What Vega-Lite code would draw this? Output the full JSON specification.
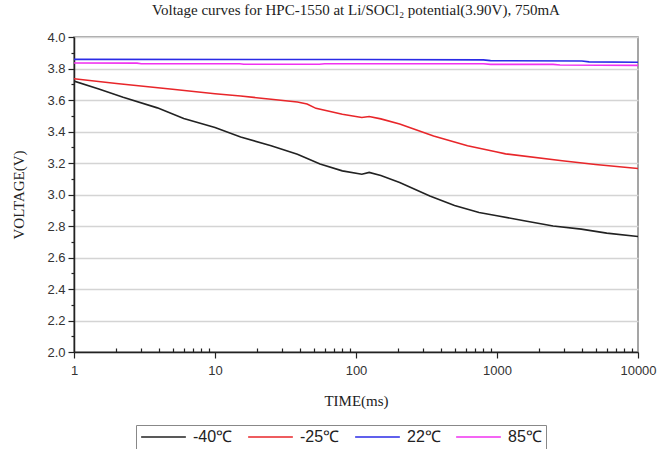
{
  "$schema": "https://vega.github.io/schema/vega-lite/v6.json",
  "width": 564,
  "height": 315,
  "autosize": {"type": "none"},
  "padding": {"left": 74, "top": 37, "right": 28, "bottom": 97},
  "background": "white",
  "title": {
    "text": "Voltage curves for HPC-1550 at Li/SOCl₂ potential(3.90V), 750mA",
    "font": "Liberation Serif",
    "fontSize": 15,
    "fontWeight": "normal",
    "color": "#222",
    "offset": 13
  },
  "config": {
    "view": {"stroke": "#888", "strokeWidth": 1.5},
    "axis": {"labelFont": "Liberation Sans", "labelFontSize": 13, "labelColor": "#333", "titleFont": "Liberation Serif", "titleFontSize": 15, "titleFontWeight": "normal", "titleColor": "#222", "domainColor": "#222", "domainWidth": 1.5, "tickColor": "#222", "tickWidth": 1.2}
  },
  "data": {
    "values": [
      {"t": 1, "v": 3.72, "s": "-40℃"},
      {"t": 1.5, "v": 3.67, "s": "-40℃"},
      {"t": 2.23, "v": 3.617, "s": "-40℃"},
      {"t": 3.9, "v": 3.55, "s": "-40℃"},
      {"t": 6, "v": 3.482, "s": "-40℃"},
      {"t": 10, "v": 3.425, "s": "-40℃"},
      {"t": 15.2, "v": 3.365, "s": "-40℃"},
      {"t": 25, "v": 3.31, "s": "-40℃"},
      {"t": 38.4, "v": 3.256, "s": "-40℃"},
      {"t": 55.6, "v": 3.193, "s": "-40℃"},
      {"t": 80, "v": 3.15, "s": "-40℃"},
      {"t": 110, "v": 3.129, "s": "-40℃"},
      {"t": 124, "v": 3.14, "s": "-40℃"},
      {"t": 150, "v": 3.12, "s": "-40℃"},
      {"t": 204, "v": 3.076, "s": "-40℃"},
      {"t": 334, "v": 2.99, "s": "-40℃"},
      {"t": 500, "v": 2.93, "s": "-40℃"},
      {"t": 746, "v": 2.886, "s": "-40℃"},
      {"t": 1000, "v": 2.865, "s": "-40℃"},
      {"t": 1557, "v": 2.833, "s": "-40℃"},
      {"t": 2500, "v": 2.8, "s": "-40℃"},
      {"t": 3960, "v": 2.78, "s": "-40℃"},
      {"t": 6000, "v": 2.755, "s": "-40℃"},
      {"t": 10000, "v": 2.733, "s": "-40℃"},
      {"t": 1, "v": 3.735, "s": "-25℃"},
      {"t": 2, "v": 3.705, "s": "-25℃"},
      {"t": 5, "v": 3.668, "s": "-25℃"},
      {"t": 10, "v": 3.64, "s": "-25℃"},
      {"t": 15.2, "v": 3.625, "s": "-25℃"},
      {"t": 25, "v": 3.605, "s": "-25℃"},
      {"t": 38.4, "v": 3.587, "s": "-25℃"},
      {"t": 45, "v": 3.575, "s": "-25℃"},
      {"t": 52, "v": 3.547, "s": "-25℃"},
      {"t": 80, "v": 3.51, "s": "-25℃"},
      {"t": 110, "v": 3.489, "s": "-25℃"},
      {"t": 124, "v": 3.495, "s": "-25℃"},
      {"t": 150, "v": 3.48, "s": "-25℃"},
      {"t": 204, "v": 3.447, "s": "-25℃"},
      {"t": 355, "v": 3.372, "s": "-25℃"},
      {"t": 618, "v": 3.309, "s": "-25℃"},
      {"t": 1000, "v": 3.27, "s": "-25℃"},
      {"t": 1150, "v": 3.258, "s": "-25℃"},
      {"t": 2900, "v": 3.214, "s": "-25℃"},
      {"t": 5000, "v": 3.19, "s": "-25℃"},
      {"t": 10000, "v": 3.165, "s": "-25℃"},
      {"t": 1, "v": 3.858, "s": "22℃"},
      {"t": 100, "v": 3.857, "s": "22℃"},
      {"t": 800, "v": 3.855, "s": "22℃"},
      {"t": 900, "v": 3.85, "s": "22℃"},
      {"t": 4000, "v": 3.848, "s": "22℃"},
      {"t": 4500, "v": 3.842, "s": "22℃"},
      {"t": 10000, "v": 3.84, "s": "22℃"},
      {"t": 1, "v": 3.835, "s": "85℃"},
      {"t": 2.8, "v": 3.834, "s": "85℃"},
      {"t": 3, "v": 3.83, "s": "85℃"},
      {"t": 15, "v": 3.83, "s": "85℃"},
      {"t": 16, "v": 3.827, "s": "85℃"},
      {"t": 55, "v": 3.827, "s": "85℃"},
      {"t": 60, "v": 3.83, "s": "85℃"},
      {"t": 800, "v": 3.83, "s": "85℃"},
      {"t": 900, "v": 3.826, "s": "85℃"},
      {"t": 2500, "v": 3.826, "s": "85℃"},
      {"t": 2800, "v": 3.822, "s": "85℃"},
      {"t": 10000, "v": 3.82, "s": "85℃"}
    ]
  },
  "mark": {"type": "line", "strokeWidth": 1.6, "clip": true},
  "encoding": {
    "x": {
      "field": "t", "type": "quantitative",
      "scale": {"type": "log", "domain": [1, 10000]},
      "axis": {
        "title": "TIME(ms)",
        "titlePadding": 16,
        "grid": false,
        "values": [1,2,3,4,5,6,7,8,9,10,20,30,40,50,60,70,80,90,100,200,300,400,500,600,700,800,900,1000,2000,3000,4000,5000,6000,7000,8000,9000,10000],
        "labelExpr": "indexof([1,10,100,1000,10000], datum.value) >= 0 ? datum.value : ''",
        "tickSize": {"condition": {"test": "indexof([1,10,100,1000,10000], datum.value) >= 0", "value": 6}, "value": -4},
        "labelPadding": 6,
        "labelFlush": false
      }
    },
    "y": {
      "field": "v", "type": "quantitative",
      "scale": {"domain": [2.0, 4.0], "nice": false, "zero": false},
      "axis": {
        "title": "VOLTAGE(V)",
        "titlePadding": 20,
        "values": [2.0,2.1,2.2,2.3,2.4,2.5,2.6,2.7,2.8,2.9,3.0,3.1,3.2,3.3,3.4,3.5,3.6,3.7,3.8,3.9,4.0],
        "labelExpr": "round(datum.value*10) % 2 == 0 ? format(datum.value, '.1f') : ''",
        "tickSize": {"condition": {"test": "round(datum.value*10) % 2 == 0", "value": 6}, "value": 3},
        "gridOpacity": {"condition": {"test": "round(datum.value*10) % 2 == 0", "value": 1}, "value": 0},
        "gridColor": "#d4d4d4",
        "gridWidth": 1.5,
        "labelPadding": 3
      }
    },
    "color": {
      "field": "s", "type": "nominal",
      "scale": {"domain": ["-40℃", "-25℃", "22℃", "85℃"], "range": ["#222222", "#e8262a", "#2b2be6", "#f032f0"]},
      "legend": {
        "title": null,
        "orient": "none",
        "legendX": 62,
        "legendY": 388,
        "direction": "horizontal",
        "symbolType": "stroke",
        "symbolSize": 2000,
        "clipHeight": 16,
        "symbolStrokeWidth": 1.6,
        "labelFont": "Liberation Sans",
        "labelFontSize": 16,
        "labelColor": "#222",
        "strokeColor": "#888",
        "padding": 4,
        "columnPadding": 14,
        "labelOffset": 6
      }
    }
  }
}
